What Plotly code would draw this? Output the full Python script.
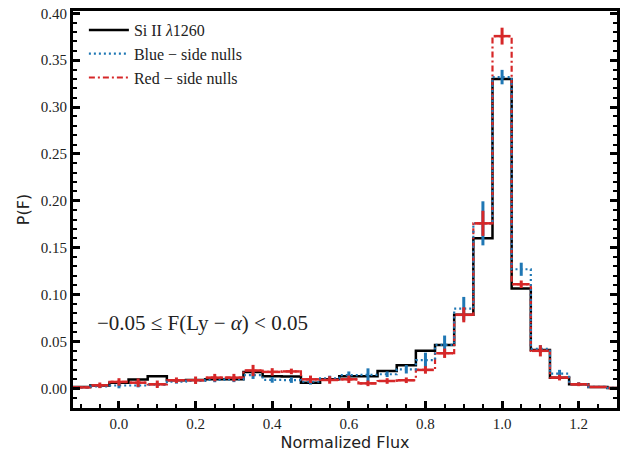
import plotly.graph_objects as go

# bin centres (Normalized Flux), bin width 0.05
centers = [-0.10, -0.05, 0.00, 0.05, 0.10, 0.15, 0.20, 0.25, 0.30, 0.35,
           0.40, 0.45, 0.50, 0.55, 0.60, 0.65, 0.70, 0.75, 0.80, 0.85,
           0.90, 0.95, 1.00, 1.05, 1.10, 1.15, 1.20, 1.25, 1.30]
bin_width = 0.05

si_ii = [0.0015, 0.003, 0.006, 0.0095, 0.013, 0.0087, 0.009, 0.0096, 0.0096, 0.0175,
         0.013, 0.0125, 0.006, 0.0098, 0.013, 0.013, 0.0185, 0.0246, 0.040, 0.0463,
         0.0784, 0.160, 0.330, 0.1066, 0.041, 0.0114, 0.0043, 0.0014, 0.0003]

blue = [0.001, 0.002, 0.003, 0.003, 0.004, 0.007, 0.008, 0.009, 0.0096, 0.014,
        0.009, 0.0088, 0.007, 0.0105, 0.014, 0.0143, 0.015, 0.0203, 0.030, 0.0463,
        0.085, 0.176, 0.332, 0.127, 0.042, 0.0157, 0.0045, 0.0015, 0.0004]
blue_err = [0.0, 0.0015, 0.003, 0.002, 0.002, 0.002, 0.002, 0.0025, 0.003, 0.004,
            0.003, 0.003, 0.003, 0.003, 0.004, 0.007, 0.003, 0.0045, 0.008, 0.010,
            0.0125, 0.0235, 0.0077, 0.007, 0.004, 0.004, 0.002, 0.001, 0.001]

red = [0.001, 0.0032, 0.0068, 0.006, 0.0043, 0.0086, 0.0086, 0.0114, 0.0114, 0.019,
       0.0175, 0.018, 0.0096, 0.0089, 0.0096, 0.0053, 0.0078, 0.0086, 0.0196, 0.0374,
       0.0784, 0.176, 0.3757, 0.111, 0.040, 0.0114, 0.0043, 0.0014, 0.0003]
red_err = [0.0, 0.003, 0.004, 0.0045, 0.004, 0.003, 0.004, 0.004, 0.004, 0.006,
           0.004, 0.003, 0.004, 0.004, 0.004, 0.003, 0.003, 0.003, 0.004, 0.005,
           0.008, 0.0134, 0.009, 0.004, 0.006, 0.003, 0.002, 0.001, 0.001]

names = ["Si II <i>λ</i>1260", "Blue − side nulls", "Red − side nulls"]
annotation_text = "−0.05 ≤ F(Ly − <i>α</i>) &lt; 0.05"

BLACK = "#000000"
BLUE = "#1f77b4"
RED = "#d62728"
SERIF = "Liberation Serif, DejaVu Serif, serif"
SANS = "DejaVu Sans, sans-serif"


def step_xy(c, v, w):
    xs = [ci - w / 2 for ci in c] + [c[-1] + w / 2]
    ys = list(v) + [v[-1]]
    return xs, ys


fig = go.Figure()

x, y = step_xy(centers, si_ii, bin_width)
fig.add_trace(go.Scatter(x=x, y=y, mode="lines", line_shape="hv",
                         line=dict(color=BLACK, width=2.5), name=names[0],
                         legendrank=1))

x, y = step_xy(centers, red, bin_width)
fig.add_trace(go.Scatter(x=x, y=y, mode="lines", line_shape="hv",
                         line=dict(color=RED, width=2.2, dash="6px,3px,2px,3px"),
                         name=names[2], legendrank=3))

x, y = step_xy(centers, blue, bin_width)
fig.add_trace(go.Scatter(x=x, y=y, mode="lines", line_shape="hv",
                         line=dict(color=BLUE, width=2.2, dash="2px,3px"),
                         name=names[1], legendrank=2))

# error bars
fig.add_trace(go.Scatter(x=centers, y=blue, mode="markers",
                         marker=dict(size=1, color=BLUE, opacity=0),
                         error_y=dict(type="data", array=blue_err, visible=True,
                                      color=BLUE, thickness=3, width=0),
                         showlegend=False))
fig.add_trace(go.Scatter(x=centers, y=red, mode="markers",
                         marker=dict(symbol="line-ew", size=12, color=RED,
                                     line=dict(color=RED, width=2.5)),
                         error_y=dict(type="data", array=red_err, visible=True,
                                      color=RED, thickness=3, width=0),
                         showlegend=False))

fig.add_annotation(x=0.218, y=0.070, xref="x", yref="y", text=annotation_text,
                   showarrow=False,
                   font=dict(family=SERIF, size=21, color="#222"))

axis_common = dict(
    showline=True, linecolor="black", linewidth=3,
    ticks="inside", ticklen=7, tickwidth=2.5, tickcolor="black",
    showgrid=False, zeroline=False, automargin=False,
    tickfont=dict(family=SERIF, size=15, color="#222"),
)

fig.update_xaxes(range=[-0.12, 1.3], dtick=0.2, tick0=0, tickformat=".1f",
                 mirror=True,
                 minor=dict(ticks="inside", dtick=0.05, tick0=0, ticklen=4,
                            tickwidth=2, tickcolor="black"),
                 title=dict(text="Normalized Flux", standoff=6,
                            font=dict(family=SANS, size=16, color="#222")),
                 **axis_common)
fig.update_yaxes(range=[-0.021, 0.4025], dtick=0.05, tick0=0, tickformat=".2f",
                 mirror="allticks",
                 minor=dict(ticks="inside", dtick=0.01, tick0=0, ticklen=4,
                            tickwidth=2, tickcolor="black"),
                 title=dict(text="P(F)", standoff=8,
                            font=dict(family=SANS, size=16, color="#222")),
                 **axis_common)

fig.update_layout(
    width=632, height=453,
    margin=dict(l=73, r=15, t=11, b=45, autoexpand=False),
    plot_bgcolor="white", paper_bgcolor="white",
    showlegend=True,
    legend=dict(x=0.02, y=0.995, xanchor="left", yanchor="top",
                bgcolor="rgba(0,0,0,0)", borderwidth=0,
                font=dict(family=SERIF, size=16, color="#222"),
                tracegroupgap=0, itemwidth=40),
)

fig.write_html("out.html", config={"displayModeBar": False},
               post_script="document.body.style.margin='0';")
